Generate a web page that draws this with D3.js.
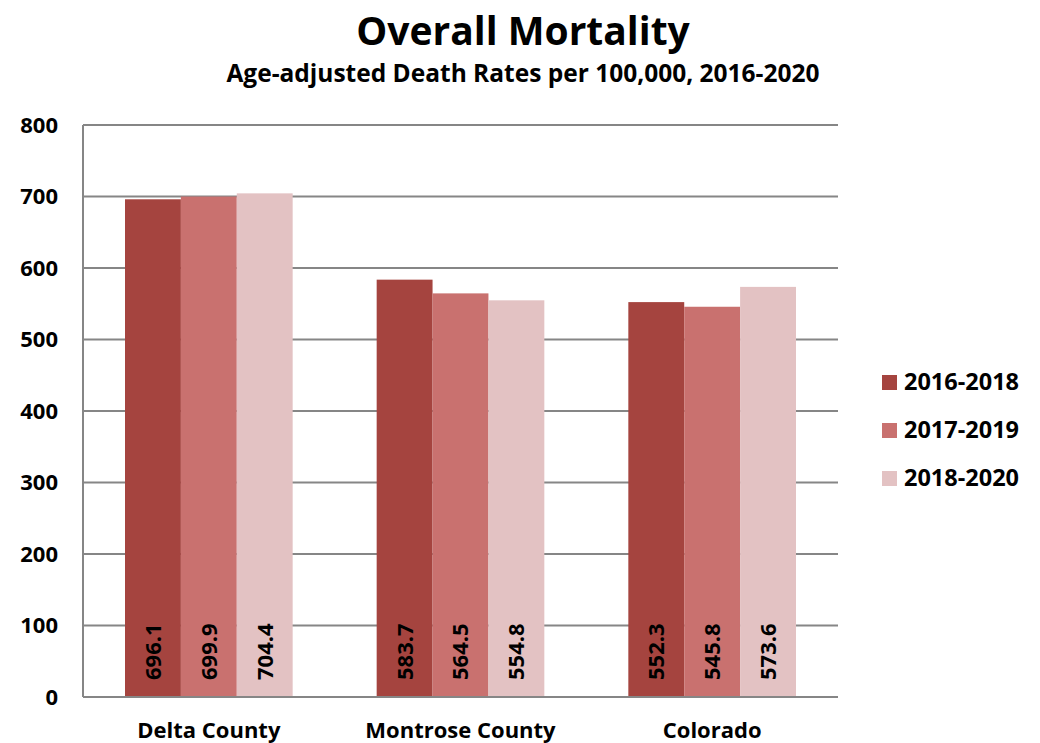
<!DOCTYPE html>
<svg width="1040" height="743"></svg>
<style>
  body { margin: 0; background: #fff; }
  svg { display: block; font-family: "Open Sans", Lato, sans-serif; font-weight: bold; }
</style>
<script src="https://d3js.org/d3.v7.min.js"></script>
<script>

var categories = ["Delta County", "Montrose County", "Colorado"];
var series = ["2016-2018", "2017-2019", "2018-2020"];
var colors = ["#a5443f", "#c9716f", "#e3c2c3"];
var values2016 = [696.1, 583.7, 552.3];
var values2017 = [699.9, 564.5, 545.8];
var values2018 = [704.4, 554.8, 573.6];
var yTicks = [0, 100, 200, 300, 400, 500, 600, 700, 800];

var allValues = [values2016, values2017, values2018];

var svg = d3.select("svg"),
    plotLeft = 83, plotRight = 838, plotTop = 125, plotBottom = 697;

var x0 = d3.scaleBand()
    .domain(categories)
    .range([plotLeft, plotRight]);

var x1 = d3.scaleBand()
    .domain(series)
    .range([42, x0.bandwidth() - 42]);

var y = d3.scaleLinear()
    .domain([0, 800])
    .range([plotBottom, plotTop]);

// gridlines
svg.append("g")
  .selectAll("line")
  .data(yTicks.filter(function(d) { return d > 0; }))
  .enter().append("line")
    .attr("x1", plotLeft).attr("x2", plotRight)
    .attr("y1", function(d) { return y(d); })
    .attr("y2", function(d) { return y(d); })
    .attr("stroke", "#868686")
    .attr("stroke-width", 2);

// y tick labels
svg.append("g")
  .selectAll("text")
  .data(yTicks)
  .enter().append("text")
    .attr("x", 58)
    .attr("y", function(d) { return y(d); })
    .attr("dy", "0.36em")
    .attr("text-anchor", "end")
    .style("font-size", "22px")
    .text(function(d) { return d; });

// bars
var groups = svg.append("g")
  .selectAll("g")
  .data(categories)
  .enter().append("g")
    .attr("transform", function(d) { return "translate(" + x0(d) + ",0)"; });

function barData(d, i) {
  return series.map(function(s, j) { return {s: s, j: j, v: allValues[j][i]}; });
}

groups.selectAll("rect")
  .data(barData)
  .enter().append("rect")
    .attr("x", function(d) { return x1(d.s); })
    .attr("y", function(d) { return y(d.v); })
    .attr("width", x1.bandwidth())
    .attr("height", function(d) { return plotBottom - y(d.v); })
    .attr("fill", function(d) { return colors[d.j]; });

// value labels, rotated
groups.selectAll("text")
  .data(barData)
  .enter().append("text")
    .attr("transform", function(d) {
      return "translate(" + (x1(d.s) + x1.bandwidth() / 2) + "," + (plotBottom - 17) + ") rotate(-90)";
    })
    .attr("dy", "0.36em")
    .style("font-size", "22px")
    .text(function(d) { return d.v.toFixed(1); });

// axis lines
svg.append("line")
    .attr("x1", plotLeft).attr("x2", plotLeft)
    .attr("y1", plotTop).attr("y2", plotBottom)
    .attr("stroke", "#868686").attr("stroke-width", 2);
svg.append("line")
    .attr("x1", plotLeft).attr("x2", plotRight)
    .attr("y1", plotBottom).attr("y2", plotBottom)
    .attr("stroke", "#868686").attr("stroke-width", 2);

// category labels
svg.append("g")
  .selectAll("text")
  .data(categories)
  .enter().append("text")
    .attr("x", function(d) { return x0(d) + x0.bandwidth() / 2; })
    .attr("y", 738)
    .attr("text-anchor", "middle")
    .style("font-size", "22px")
    .text(function(d) { return d; });

// titles
svg.append("text")
    .attr("x", 523).attr("y", 45)
    .attr("text-anchor", "middle")
    .style("font-size", "39px")
    .text("Overall Mortality");

svg.append("text")
    .attr("x", 523).attr("y", 82)
    .attr("text-anchor", "middle")
    .style("font-size", "24.5px")
    .text("Age-adjusted Death Rates per 100,000, 2016-2020");

// legend
var legend = svg.append("g")
  .selectAll("g")
  .data(series)
  .enter().append("g")
    .attr("transform", function(d, i) { return "translate(882," + (382 + i * 48) + ")"; });

legend.append("rect")
    .attr("x", 0).attr("y", -7)
    .attr("width", 15).attr("height", 15)
    .attr("fill", function(d, i) { return colors[i]; });

legend.append("text")
    .attr("x", 22)
    .attr("dy", "0.36em")
    .style("font-size", "23.5px")
    .text(function(d) { return d; });

</script>
